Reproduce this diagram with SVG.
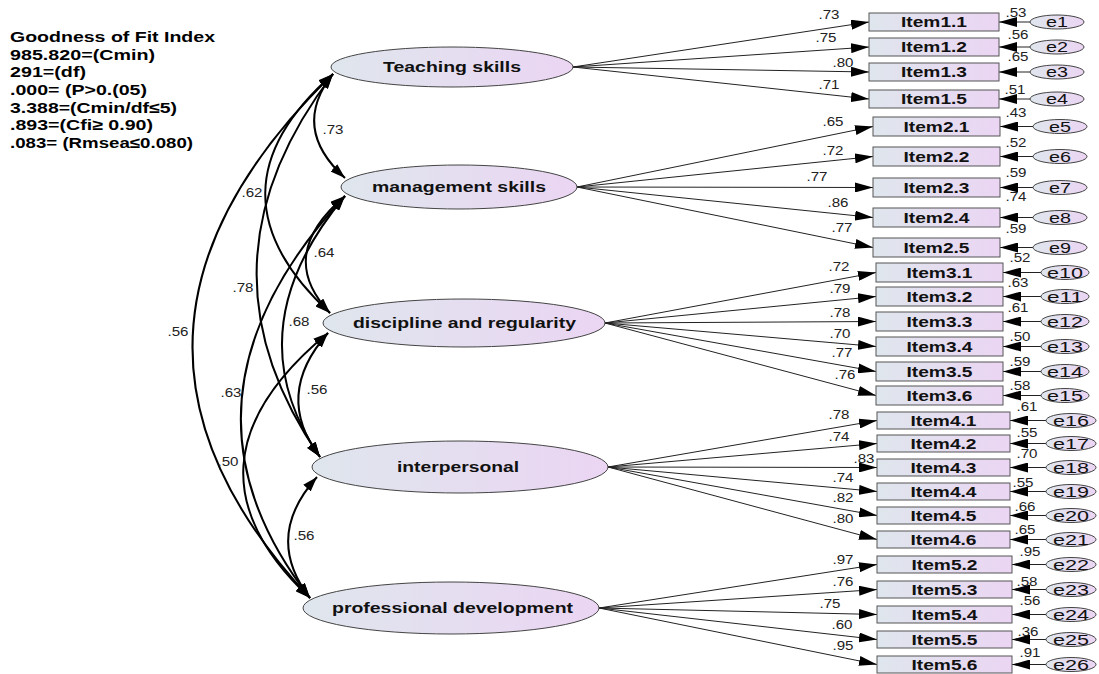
<svg xmlns="http://www.w3.org/2000/svg" width="1099" height="674" viewBox="0 0 1099 674">
<defs>
<linearGradient id="g" x1="0" y1="0" x2="1" y2="0">
<stop offset="0" stop-color="#dfe6ed"/>
<stop offset="1" stop-color="#ebd5f3"/>
</linearGradient>
<marker id="ah" markerUnits="userSpaceOnUse" markerWidth="18" markerHeight="10" viewBox="0 0 18 10" refX="18" refY="5" orient="auto"><path d="M0,0L18,5L0,10z" fill="#000"/></marker>
<marker id="ch" markerUnits="userSpaceOnUse" markerWidth="15" markerHeight="10" viewBox="0 0 15 10" refX="15" refY="5" orient="auto-start-reverse"><path d="M0,0L15,5L0,10z" fill="#000"/></marker>
<style>
.box{fill:url(#g);stroke:#555;stroke-width:1}
.lat{fill:url(#g);stroke:#444;stroke-width:1}
.err{fill:url(#g);stroke:#444;stroke-width:1}
.ld{stroke:#222;stroke-width:1;fill:none;marker-end:url(#ah)}
.cov{stroke:#000;stroke-width:2;fill:none;marker-start:url(#ch);marker-end:url(#ch)}
.fit{font-family:'Liberation Sans',Arial,sans-serif;font-weight:bold;font-size:15px;fill:#000}
.lt{font-family:'Liberation Sans',Arial,sans-serif;font-weight:bold;font-size:15px;fill:#111;text-anchor:middle}
.it{font-family:'Liberation Sans',Arial,sans-serif;font-weight:bold;font-size:14px;fill:#111;text-anchor:middle}
.et{font-family:'Liberation Sans',Arial,sans-serif;font-size:14px;fill:#111;text-anchor:middle}
.n{font-family:'Liberation Sans',Arial,sans-serif;font-size:12px;fill:#222;text-anchor:middle}
</style>
</defs>
<rect width="1099" height="674" fill="#fff"/>

<g id="fit-index">
<text class="fit" x="10" y="42" textLength="205" lengthAdjust="spacingAndGlyphs">Goodness of Fit Index</text>
<text class="fit" x="10" y="59.5" textLength="145" lengthAdjust="spacingAndGlyphs">985.820=(Cmin)</text>
<text class="fit" x="10" y="77" textLength="76" lengthAdjust="spacingAndGlyphs">291=(df)</text>
<text class="fit" x="10" y="95" textLength="137" lengthAdjust="spacingAndGlyphs">.000= (P&gt;0.(05)</text>
<text class="fit" x="10" y="112.5" textLength="167" lengthAdjust="spacingAndGlyphs">3.388=(Cmin/df≤5)</text>
<text class="fit" x="10" y="130" textLength="143" lengthAdjust="spacingAndGlyphs">.893=(Cfi≥ 0.90)</text>
<text class="fit" x="10" y="148" textLength="183" lengthAdjust="spacingAndGlyphs">.083= (Rmsea≤0.080)</text>
</g>

<g id="connectors">
<!-- covariances -->
<path class="cov" d="M333,74 Q290,128 345,178"/>
<path class="cov" d="M333,74 Q199,192 330,313"/>
<path class="cov" d="M333,74 Q187,265 320,457"/>
<path class="cov" d="M333,74 Q64,335 310,598"/>
<path class="cov" d="M345,196 Q275,255 330,313"/>
<path class="cov" d="M345,196 Q233,330 320,457"/>
<path class="cov" d="M345,196 Q156,400 310,598"/>
<path class="cov" d="M328,333 Q273,395 320,457"/>
<path class="cov" d="M328,333 Q168,465 310,598"/>
<path class="cov" d="M317,477 Q263,537 310,598"/>
<!-- loadings -->
<path class="ld" d="M573,67 L869,22"/>
<path class="ld" d="M573,67 L869,47"/>
<path class="ld" d="M573,67 L869,72"/>
<path class="ld" d="M573,67 L869,99"/>
<path class="ld" d="M577,187 L873,126.5"/>
<path class="ld" d="M577,187 L873,156.5"/>
<path class="ld" d="M577,187 L873,187.5"/>
<path class="ld" d="M577,187 L873,217.5"/>
<path class="ld" d="M577,187 L873,247.5"/>
<path class="ld" d="M605,323 L876,272.5"/>
<path class="ld" d="M605,323 L876,296.5"/>
<path class="ld" d="M605,323 L876,321.5"/>
<path class="ld" d="M605,323 L876,346.5"/>
<path class="ld" d="M605,323 L876,371.5"/>
<path class="ld" d="M605,323 L876,395.5"/>
<path class="ld" d="M608,467 L877,420.5"/>
<path class="ld" d="M608,467 L877,443.5"/>
<path class="ld" d="M608,467 L877,467.5"/>
<path class="ld" d="M608,467 L877,491.5"/>
<path class="ld" d="M608,467 L877,515.5"/>
<path class="ld" d="M608,467 L877,539.5"/>
<path class="ld" d="M599,608 L877,564.5"/>
<path class="ld" d="M599,608 L877,589.5"/>
<path class="ld" d="M599,608 L877,614.5"/>
<path class="ld" d="M599,608 L877,639.5"/>
<path class="ld" d="M599,608 L877,664.5"/>
<!-- error arrows -->
<path class="ld" d="M1030,22 L999,22"/>
<path class="ld" d="M1030,47 L999,47"/>
<path class="ld" d="M1030,72 L999,72"/>
<path class="ld" d="M1030,99 L999,99"/>
<path class="ld" d="M1033,126.5 L1000,126.5"/>
<path class="ld" d="M1033,156.5 L1000,156.5"/>
<path class="ld" d="M1033,187.5 L1000,187.5"/>
<path class="ld" d="M1033,217.5 L1000,217.5"/>
<path class="ld" d="M1033,247.5 L1000,247.5"/>
<path class="ld" d="M1041,272.5 L1003,272.5"/>
<path class="ld" d="M1041,296.5 L1003,296.5"/>
<path class="ld" d="M1041,321.5 L1003,321.5"/>
<path class="ld" d="M1041,346.5 L1003,346.5"/>
<path class="ld" d="M1041,371.5 L1003,371.5"/>
<path class="ld" d="M1041,395.5 L1003,395.5"/>
<path class="ld" d="M1046,420.5 L1010,420.5"/>
<path class="ld" d="M1046,443.5 L1010,443.5"/>
<path class="ld" d="M1046,467.5 L1010,467.5"/>
<path class="ld" d="M1046,491.5 L1010,491.5"/>
<path class="ld" d="M1046,515.5 L1010,515.5"/>
<path class="ld" d="M1046,539.5 L1010,539.5"/>
<path class="ld" d="M1046,564.5 L1012,564.5"/>
<path class="ld" d="M1046,589.5 L1012,589.5"/>
<path class="ld" d="M1046,614.5 L1012,614.5"/>
<path class="ld" d="M1046,639.5 L1012,639.5"/>
<path class="ld" d="M1046,664.5 L1012,664.5"/>
<!-- covariance labels -->
<text class="n" x="333" y="134" textLength="21" lengthAdjust="spacingAndGlyphs">.73</text>
<text class="n" x="252" y="197" textLength="21" lengthAdjust="spacingAndGlyphs">.62</text>
<text class="n" x="324" y="257" textLength="21" lengthAdjust="spacingAndGlyphs">.64</text>
<text class="n" x="243" y="292" textLength="21" lengthAdjust="spacingAndGlyphs">.78</text>
<text class="n" x="178" y="336" textLength="21" lengthAdjust="spacingAndGlyphs">.56</text>
<text class="n" x="299" y="326" textLength="21" lengthAdjust="spacingAndGlyphs">.68</text>
<text class="n" x="231" y="397" textLength="21" lengthAdjust="spacingAndGlyphs">.63</text>
<text class="n" x="317" y="394" textLength="21" lengthAdjust="spacingAndGlyphs">.56</text>
<text class="n" x="228" y="466" textLength="21" lengthAdjust="spacingAndGlyphs">.50</text>
<text class="n" x="304" y="540" textLength="21" lengthAdjust="spacingAndGlyphs">.56</text>
<!-- loading labels -->
<text class="n" x="829" y="19" textLength="21" lengthAdjust="spacingAndGlyphs">.73</text>
<text class="n" x="826" y="42" textLength="21" lengthAdjust="spacingAndGlyphs">.75</text>
<text class="n" x="843" y="67" textLength="21" lengthAdjust="spacingAndGlyphs">.80</text>
<text class="n" x="829" y="89" textLength="21" lengthAdjust="spacingAndGlyphs">.71</text>
<text class="n" x="833" y="126" textLength="21" lengthAdjust="spacingAndGlyphs">.65</text>
<text class="n" x="833" y="155" textLength="21" lengthAdjust="spacingAndGlyphs">.72</text>
<text class="n" x="817" y="181" textLength="21" lengthAdjust="spacingAndGlyphs">.77</text>
<text class="n" x="838" y="207" textLength="21" lengthAdjust="spacingAndGlyphs">.86</text>
<text class="n" x="842" y="232" textLength="21" lengthAdjust="spacingAndGlyphs">.77</text>
<text class="n" x="839" y="271" textLength="21" lengthAdjust="spacingAndGlyphs">.72</text>
<text class="n" x="840" y="293" textLength="21" lengthAdjust="spacingAndGlyphs">.79</text>
<text class="n" x="840" y="317" textLength="21" lengthAdjust="spacingAndGlyphs">.78</text>
<text class="n" x="840" y="338" textLength="21" lengthAdjust="spacingAndGlyphs">.70</text>
<text class="n" x="842" y="357" textLength="21" lengthAdjust="spacingAndGlyphs">.77</text>
<text class="n" x="845" y="379" textLength="21" lengthAdjust="spacingAndGlyphs">.76</text>
<text class="n" x="839" y="419" textLength="21" lengthAdjust="spacingAndGlyphs">.78</text>
<text class="n" x="839" y="441" textLength="21" lengthAdjust="spacingAndGlyphs">.74</text>
<text class="n" x="864" y="463" textLength="21" lengthAdjust="spacingAndGlyphs">.83</text>
<text class="n" x="843" y="482" textLength="21" lengthAdjust="spacingAndGlyphs">.74</text>
<text class="n" x="843" y="502" textLength="21" lengthAdjust="spacingAndGlyphs">.82</text>
<text class="n" x="843" y="523" textLength="21" lengthAdjust="spacingAndGlyphs">.80</text>
<text class="n" x="843" y="564" textLength="21" lengthAdjust="spacingAndGlyphs">.97</text>
<text class="n" x="843" y="586" textLength="21" lengthAdjust="spacingAndGlyphs">.76</text>
<text class="n" x="830" y="608" textLength="21" lengthAdjust="spacingAndGlyphs">.75</text>
<text class="n" x="842" y="629" textLength="21" lengthAdjust="spacingAndGlyphs">.60</text>
<text class="n" x="843" y="650" textLength="21" lengthAdjust="spacingAndGlyphs">.95</text>
<!-- error variance labels -->
<text class="n" x="1016" y="17" textLength="21" lengthAdjust="spacingAndGlyphs">.53</text>
<text class="n" x="1018" y="39" textLength="21" lengthAdjust="spacingAndGlyphs">.56</text>
<text class="n" x="1018" y="61" textLength="21" lengthAdjust="spacingAndGlyphs">.65</text>
<text class="n" x="1015" y="94" textLength="21" lengthAdjust="spacingAndGlyphs">.51</text>
<text class="n" x="1016" y="117" textLength="21" lengthAdjust="spacingAndGlyphs">.43</text>
<text class="n" x="1016" y="147" textLength="21" lengthAdjust="spacingAndGlyphs">.52</text>
<text class="n" x="1016" y="177" textLength="21" lengthAdjust="spacingAndGlyphs">.59</text>
<text class="n" x="1016" y="201" textLength="21" lengthAdjust="spacingAndGlyphs">.74</text>
<text class="n" x="1016" y="233" textLength="21" lengthAdjust="spacingAndGlyphs">.59</text>
<text class="n" x="1020" y="262" textLength="21" lengthAdjust="spacingAndGlyphs">.52</text>
<text class="n" x="1018" y="287" textLength="21" lengthAdjust="spacingAndGlyphs">.63</text>
<text class="n" x="1018" y="312" textLength="21" lengthAdjust="spacingAndGlyphs">.61</text>
<text class="n" x="1020" y="341" textLength="21" lengthAdjust="spacingAndGlyphs">.50</text>
<text class="n" x="1020" y="366" textLength="21" lengthAdjust="spacingAndGlyphs">.59</text>
<text class="n" x="1020" y="390" textLength="21" lengthAdjust="spacingAndGlyphs">.58</text>
<text class="n" x="1027" y="411" textLength="21" lengthAdjust="spacingAndGlyphs">.61</text>
<text class="n" x="1027" y="437" textLength="21" lengthAdjust="spacingAndGlyphs">.55</text>
<text class="n" x="1027" y="458" textLength="21" lengthAdjust="spacingAndGlyphs">.70</text>
<text class="n" x="1023" y="487" textLength="21" lengthAdjust="spacingAndGlyphs">.55</text>
<text class="n" x="1025" y="511" textLength="21" lengthAdjust="spacingAndGlyphs">.66</text>
<text class="n" x="1025" y="534" textLength="21" lengthAdjust="spacingAndGlyphs">.65</text>
<text class="n" x="1030" y="556" textLength="21" lengthAdjust="spacingAndGlyphs">.95</text>
<text class="n" x="1027" y="586" textLength="21" lengthAdjust="spacingAndGlyphs">.58</text>
<text class="n" x="1030" y="605" textLength="21" lengthAdjust="spacingAndGlyphs">.56</text>
<text class="n" x="1028" y="636" textLength="21" lengthAdjust="spacingAndGlyphs">.36</text>
<text class="n" x="1030" y="657" textLength="21" lengthAdjust="spacingAndGlyphs">.91</text>
</g>

<g id="teaching-skills"><ellipse class="lat" cx="452" cy="67" rx="121" ry="20"/><text class="lt" x="452" y="72" textLength="138" lengthAdjust="spacingAndGlyphs">Teaching skills</text></g>
<g id="management-skills"><ellipse class="lat" cx="459" cy="187" rx="118" ry="22"/><text class="lt" x="459" y="192" textLength="174" lengthAdjust="spacingAndGlyphs">management skills</text></g>
<g id="discipline"><ellipse class="lat" cx="464" cy="323" rx="141" ry="24"/><text class="lt" x="464.5" y="328" textLength="223" lengthAdjust="spacingAndGlyphs">discipline and regularity</text></g>
<g id="interpersonal"><ellipse class="lat" cx="460" cy="467" rx="148" ry="26"/><text class="lt" x="458" y="472" textLength="122" lengthAdjust="spacingAndGlyphs">interpersonal</text></g>
<g id="professional-development"><ellipse class="lat" cx="451" cy="608" rx="148" ry="26"/><text class="lt" x="452.5" y="613" textLength="241" lengthAdjust="spacingAndGlyphs">professional development</text></g>

<g id="item1-1"><rect class="box" x="869" y="13" width="130" height="18"/><text class="it" x="934" y="27" textLength="66" lengthAdjust="spacingAndGlyphs">Item1.1</text></g>
<g id="item1-2"><rect class="box" x="869" y="38" width="130" height="18"/><text class="it" x="934" y="52" textLength="66" lengthAdjust="spacingAndGlyphs">Item1.2</text></g>
<g id="item1-3"><rect class="box" x="869" y="63" width="130" height="18"/><text class="it" x="934" y="77" textLength="66" lengthAdjust="spacingAndGlyphs">Item1.3</text></g>
<g id="item1-5"><rect class="box" x="869" y="90" width="130" height="18"/><text class="it" x="934" y="104" textLength="66" lengthAdjust="spacingAndGlyphs">Item1.5</text></g>
<g id="item2-1"><rect class="box" x="873" y="117" width="127" height="19"/><text class="it" x="936.5" y="131.5" textLength="66" lengthAdjust="spacingAndGlyphs">Item2.1</text></g>
<g id="item2-2"><rect class="box" x="873" y="147" width="127" height="19"/><text class="it" x="936.5" y="161.5" textLength="66" lengthAdjust="spacingAndGlyphs">Item2.2</text></g>
<g id="item2-3"><rect class="box" x="873" y="178" width="127" height="19"/><text class="it" x="936.5" y="192.5" textLength="66" lengthAdjust="spacingAndGlyphs">Item2.3</text></g>
<g id="item2-4"><rect class="box" x="873" y="208" width="127" height="19"/><text class="it" x="936.5" y="222.5" textLength="66" lengthAdjust="spacingAndGlyphs">Item2.4</text></g>
<g id="item2-5"><rect class="box" x="873" y="238" width="127" height="19"/><text class="it" x="936.5" y="252.5" textLength="66" lengthAdjust="spacingAndGlyphs">Item2.5</text></g>
<g id="item3-1"><rect class="box" x="876" y="263" width="127" height="19"/><text class="it" x="939.5" y="277.5" textLength="66" lengthAdjust="spacingAndGlyphs">Item3.1</text></g>
<g id="item3-2"><rect class="box" x="876" y="287" width="127" height="19"/><text class="it" x="939.5" y="301.5" textLength="66" lengthAdjust="spacingAndGlyphs">Item3.2</text></g>
<g id="item3-3"><rect class="box" x="876" y="312" width="127" height="19"/><text class="it" x="939.5" y="326.5" textLength="66" lengthAdjust="spacingAndGlyphs">Item3.3</text></g>
<g id="item3-4"><rect class="box" x="876" y="337" width="127" height="19"/><text class="it" x="939.5" y="351.5" textLength="66" lengthAdjust="spacingAndGlyphs">Item3.4</text></g>
<g id="item3-5"><rect class="box" x="876" y="362" width="127" height="19"/><text class="it" x="939.5" y="376.5" textLength="66" lengthAdjust="spacingAndGlyphs">Item3.5</text></g>
<g id="item3-6"><rect class="box" x="876" y="386" width="127" height="19"/><text class="it" x="939.5" y="400.5" textLength="66" lengthAdjust="spacingAndGlyphs">Item3.6</text></g>
<g id="item4-1"><rect class="box" x="877" y="412" width="133" height="17"/><text class="it" x="943.5" y="425.5" textLength="66" lengthAdjust="spacingAndGlyphs">Item4.1</text></g>
<g id="item4-2"><rect class="box" x="877" y="435" width="133" height="17"/><text class="it" x="943.5" y="448.5" textLength="66" lengthAdjust="spacingAndGlyphs">Item4.2</text></g>
<g id="item4-3"><rect class="box" x="877" y="459" width="133" height="17"/><text class="it" x="943.5" y="472.5" textLength="66" lengthAdjust="spacingAndGlyphs">Item4.3</text></g>
<g id="item4-4"><rect class="box" x="877" y="483" width="133" height="17"/><text class="it" x="943.5" y="496.5" textLength="66" lengthAdjust="spacingAndGlyphs">Item4.4</text></g>
<g id="item4-5"><rect class="box" x="877" y="507" width="133" height="17"/><text class="it" x="943.5" y="520.5" textLength="66" lengthAdjust="spacingAndGlyphs">Item4.5</text></g>
<g id="item4-6"><rect class="box" x="877" y="531" width="133" height="17"/><text class="it" x="943.5" y="544.5" textLength="66" lengthAdjust="spacingAndGlyphs">Item4.6</text></g>
<g id="item5-2"><rect class="box" x="877" y="556" width="135" height="17"/><text class="it" x="944.5" y="569.5" textLength="66" lengthAdjust="spacingAndGlyphs">Item5.2</text></g>
<g id="item5-3"><rect class="box" x="877" y="581" width="135" height="17"/><text class="it" x="944.5" y="594.5" textLength="66" lengthAdjust="spacingAndGlyphs">Item5.3</text></g>
<g id="item5-4"><rect class="box" x="877" y="606" width="135" height="17"/><text class="it" x="944.5" y="619.5" textLength="66" lengthAdjust="spacingAndGlyphs">Item5.4</text></g>
<g id="item5-5"><rect class="box" x="877" y="631" width="135" height="17"/><text class="it" x="944.5" y="644.5" textLength="66" lengthAdjust="spacingAndGlyphs">Item5.5</text></g>
<g id="item5-6"><rect class="box" x="877" y="656" width="135" height="17"/><text class="it" x="944.5" y="669.5" textLength="66" lengthAdjust="spacingAndGlyphs">Item5.6</text></g>

<g id="e1"><ellipse class="err" cx="1057" cy="22" rx="27" ry="7"/><text class="et" x="1057" y="27" textLength="22" lengthAdjust="spacingAndGlyphs">e1</text></g>
<g id="e2"><ellipse class="err" cx="1057" cy="47" rx="27" ry="7"/><text class="et" x="1057" y="52" textLength="22" lengthAdjust="spacingAndGlyphs">e2</text></g>
<g id="e3"><ellipse class="err" cx="1057" cy="72" rx="27" ry="7"/><text class="et" x="1057" y="77" textLength="22" lengthAdjust="spacingAndGlyphs">e3</text></g>
<g id="e4"><ellipse class="err" cx="1057" cy="99" rx="27" ry="7"/><text class="et" x="1057" y="104" textLength="22" lengthAdjust="spacingAndGlyphs">e4</text></g>
<g id="e5"><ellipse class="err" cx="1060" cy="126.5" rx="27" ry="7"/><text class="et" x="1060" y="131.5" textLength="22" lengthAdjust="spacingAndGlyphs">e5</text></g>
<g id="e6"><ellipse class="err" cx="1060" cy="156.5" rx="27" ry="7"/><text class="et" x="1060" y="161.5" textLength="22" lengthAdjust="spacingAndGlyphs">e6</text></g>
<g id="e7"><ellipse class="err" cx="1060" cy="187.5" rx="27" ry="7"/><text class="et" x="1060" y="192.5" textLength="22" lengthAdjust="spacingAndGlyphs">e7</text></g>
<g id="e8"><ellipse class="err" cx="1060" cy="217.5" rx="27" ry="7"/><text class="et" x="1060" y="222.5" textLength="22" lengthAdjust="spacingAndGlyphs">e8</text></g>
<g id="e9"><ellipse class="err" cx="1060" cy="247.5" rx="27" ry="7"/><text class="et" x="1060" y="252.5" textLength="22" lengthAdjust="spacingAndGlyphs">e9</text></g>
<g id="e10"><ellipse class="err" cx="1065" cy="272.5" rx="24" ry="7"/><text class="et" x="1065" y="277.5" textLength="36" lengthAdjust="spacingAndGlyphs">e10</text></g>
<g id="e11"><ellipse class="err" cx="1065" cy="296.5" rx="24" ry="7"/><text class="et" x="1065" y="301.5" textLength="36" lengthAdjust="spacingAndGlyphs">e11</text></g>
<g id="e12"><ellipse class="err" cx="1065" cy="321.5" rx="24" ry="7"/><text class="et" x="1065" y="326.5" textLength="36" lengthAdjust="spacingAndGlyphs">e12</text></g>
<g id="e13"><ellipse class="err" cx="1065" cy="346.5" rx="24" ry="7"/><text class="et" x="1065" y="351.5" textLength="36" lengthAdjust="spacingAndGlyphs">e13</text></g>
<g id="e14"><ellipse class="err" cx="1065" cy="371.5" rx="24" ry="7"/><text class="et" x="1065" y="376.5" textLength="36" lengthAdjust="spacingAndGlyphs">e14</text></g>
<g id="e15"><ellipse class="err" cx="1065" cy="395.5" rx="24" ry="7"/><text class="et" x="1065" y="400.5" textLength="36" lengthAdjust="spacingAndGlyphs">e15</text></g>
<g id="e16"><ellipse class="err" cx="1071" cy="420.5" rx="25" ry="7"/><text class="et" x="1071" y="425.5" textLength="36" lengthAdjust="spacingAndGlyphs">e16</text></g>
<g id="e17"><ellipse class="err" cx="1071" cy="443.5" rx="25" ry="7"/><text class="et" x="1071" y="448.5" textLength="36" lengthAdjust="spacingAndGlyphs">e17</text></g>
<g id="e18"><ellipse class="err" cx="1071" cy="467.5" rx="25" ry="7"/><text class="et" x="1071" y="472.5" textLength="36" lengthAdjust="spacingAndGlyphs">e18</text></g>
<g id="e19"><ellipse class="err" cx="1071" cy="491.5" rx="25" ry="7"/><text class="et" x="1071" y="496.5" textLength="36" lengthAdjust="spacingAndGlyphs">e19</text></g>
<g id="e20"><ellipse class="err" cx="1071" cy="515.5" rx="25" ry="7"/><text class="et" x="1071" y="520.5" textLength="36" lengthAdjust="spacingAndGlyphs">e20</text></g>
<g id="e21"><ellipse class="err" cx="1071" cy="539.5" rx="25" ry="7"/><text class="et" x="1071" y="544.5" textLength="36" lengthAdjust="spacingAndGlyphs">e21</text></g>
<g id="e22"><ellipse class="err" cx="1071" cy="564.5" rx="25" ry="7"/><text class="et" x="1071" y="569.5" textLength="36" lengthAdjust="spacingAndGlyphs">e22</text></g>
<g id="e23"><ellipse class="err" cx="1071" cy="589.5" rx="25" ry="7"/><text class="et" x="1071" y="594.5" textLength="36" lengthAdjust="spacingAndGlyphs">e23</text></g>
<g id="e24"><ellipse class="err" cx="1071" cy="614.5" rx="25" ry="7"/><text class="et" x="1071" y="619.5" textLength="36" lengthAdjust="spacingAndGlyphs">e24</text></g>
<g id="e25"><ellipse class="err" cx="1071" cy="639.5" rx="25" ry="7"/><text class="et" x="1071" y="644.5" textLength="36" lengthAdjust="spacingAndGlyphs">e25</text></g>
<g id="e26"><ellipse class="err" cx="1071" cy="664.5" rx="25" ry="7"/><text class="et" x="1071" y="669.5" textLength="36" lengthAdjust="spacingAndGlyphs">e26</text></g>
</svg>
